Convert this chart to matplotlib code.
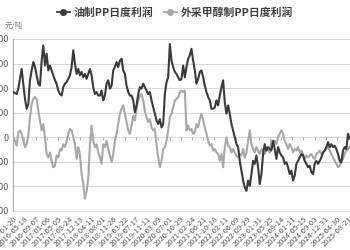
import numpy as np
import matplotlib.pyplot as plt

plt.rcParams['font.family'] = ['Noto Sans CJK SC', 'DejaVu Sans']

# 日期标签（类别轴，每隔若干交易日标一次）
date_labels = [
    '2016-01-20', '2016-05-18', '2016-09-07', '2017-01-06', '2017-05-05',
    '2017-08-24', '2017-12-13', '2018-04-11', '2018-08-01', '2018-11-26',
    '2019-03-22', '2019-07-17', '2019-11-11', '2020-03-09', '2020-07-01',
    '2020-10-29', '2021-02-24', '2021-06-21', '2021-10-18', '2022-02-11',
    '2022-06-09', '2022-09-29', '2023-01-31', '2023-05-25', '2023-09-14',
    '2024-01-11', '2024-05-15', '2024-09-03', '2024-12-31', '2025-04-30',
    '2025-08-21',
]

# 油制PP日度利润，元/吨
oil_pp = [
    920, 900, 880, 990, 1200, 1390, 1090, 780, 580, 680,
    1160, 1360, 1530, 1430, 1260, 1090, 1050, 1560, 1870, 1460,
    1700, 1360, 1460, 1360, 1260, 1160, 1090, 950, 880, 850,
    1020, 1090, 1120, 1190, 1260, 1430, 1770, 1500, 1290, 1390,
    1260, 1330, 1220, 1290, 1190, 1290, 1390, 1260, 1020, 880,
    920, 850, 850,
    950, 750, 850, 1090, 1160, 990, 1050, 1360, 1430, 1530,
    1430, 1560, 1600, 1360, 1290, 1050, 920, 850, 850, 750,
    510, 650, 880, 1020, 990, 1090, 1020, 950, 880, 920,
    750, 610, 480, 340, 270, 370, 200, 270, 880, 1120,
    1220, 1900, 1560, 1430, 1330, 1290, 1220, 1160, 1190, 1460,
    1220,
    1430, 1600, 1670, 1800, 1560, 1360, 1090, 1190, 1330, 1360,
    1220, 1050, 920, 820, 750, 580, 580, 610, 750, 650,
    850, 1020, 1160, 710, 480, 650, 480, 270, 140, 0,
    -140, -200, -480, -680, -880, -1020, -1090, -880, -990, -750,
    -480, -540, -370, -610, -950, -750, -340, -140, -270, -200,
    -240,
    -270, -70, -240, -440, -200, -310, -370, -410, -540, -510,
    -610, -750, -680, -880, -780, -540, -480, -410, -340, -370,
    -480, -540, -610, -580, -710, -750, -540, -480, -540, -480,
    -410, -310, -270, -200, -100, -200, -140, -200, -170, -240,
    -340, -480, -510, -270, -200, -240, 70, -30,
]

# 外采甲醇制PP日度利润，元/吨
meoh_pp = [
    0, -70, -170, 100, 140, 70, -70, -200, -140, 30,
    410, 680, 780, 820, 780, 540, 340, 140, 270, 0,
    -340, -410, -310, -480, -610, -580, -370, -410, -240, -270,
    -140, -200, -70, 70, 170, 140, 0, -140, -440, -200,
    -340, -750, -950, -1250, -1100, -850, -140, 240, -70, -200,
    -140, -310, -410,
    -540, -140, -200, -70, -240, -370, -510, -340, -70, 70,
    270, 480, 580, 650, 480, 310, 140, 70, 240, 440,
    340, 580, 750, 850, 880, 750, 540, 410, 310, 370,
    200, 140, 170, -140, -410, -610, -480, -240, -200, -70,
    140, 410, 480, 610, 750, 780, 820, 920, 950, 920,
    950,
    140, 240, 140, 170, 70, 100, 270, 200, 370, 480,
    340, 200, 70, -70, -170, -140, -270, -240, -310, -340,
    -480, -340, -610, -200, 0, -170, -200, -310, -240, -310,
    -370, -410, -340, -370, -240, -410, -310, -70, 140, -140,
    -240, -310, -200, -270, -340, -240, -270, -340, -240, -270,
    -310,
    -70, -140, -70, -140, 0, 70, 140, 70, -70, -140,
    -240, -140, -200, -310, -240, -270, -200, -310, -270, -340,
    -440, -370, -410, -370, -340, -410, -440, -340, -310, -270,
    -340, -310, -270, -240, -200, -270, -340, -410,
    -480, -540, -610, -580, -480, -440, -340, -270, -240, -200,
]

x = np.arange(len(oil_pp))
tick_pos = np.arange(len(date_labels)) * 6.7
y_min, y_max = -1500, 2000

fig = plt.figure(figsize=(3.5, 2.5), dpi=100)
ax = fig.add_axes([13 / 350, 1 - 211 / 250, 1 - 13 / 350, 172 / 250])

ax.plot(x, oil_pp, color='#3a3a3a', lw=1.5, label='油制PP日度利润', zorder=3)
ax.plot(x, meoh_pp, color='#a8a8a8', lw=1.5, label='外采甲醇制PP日度利润', zorder=2)

ax.set_ylim(y_min, y_max)
ax.set_yticks(np.arange(y_min, y_max + 1, 500))
ax.set_xlim(-0.2, len(oil_pp) - 0.8)
ax.grid(axis='y', color='#d9d9d9', lw=0.7)
ax.set_axisbelow(True)

ax.set_xticks(tick_pos)
ax.set_xticklabels(date_labels, rotation=45, ha='right', rotation_mode='anchor',
                   fontsize=5.5, color='#595959')
ax.tick_params(axis='x', length=0, pad=3)
ax.tick_params(axis='y', length=0, pad=3, labelsize=6.5, labelcolor='#595959')

for side in ['top', 'right']:
    ax.spines[side].set_visible(False)
ax.spines['left'].set_color('#a6a6a6')
ax.spines['left'].set_linewidth(0.8)
ax.spines['bottom'].set_color('#d9d9d9')
ax.spines['bottom'].set_linewidth(0.7)

# 零轴（带刻度）
zero_loc = (0 - y_min) / (y_max - y_min)
zax = ax.secondary_xaxis(zero_loc)
zax.set_xticks(tick_pos)
zax.set_xticklabels([])
zax.tick_params(axis='x', direction='out', length=2, width=0.6, color='#a6a6a6')
zax.spines['bottom'].set_color('#a6a6a6')
zax.spines['bottom'].set_linewidth(0.8)

fig.text(5 / 350, 1 - 26 / 250, '元/吨', fontsize=5.5, color='#7f7f7f',
         va='center', ha='left')

# 图例：线+圆点
h1 = plt.Line2D([], [], color='#3a3a3a', lw=1.3, marker='o', markersize=4)
h2 = plt.Line2D([], [], color='#a8a8a8', lw=1.3, marker='o', markersize=4)
fig.legend([h1, h2], ['油制PP日度利润', '外采甲醇制PP日度利润'],
           loc='center', bbox_to_anchor=(175 / 350, 1 - 13 / 250), ncol=2,
           frameon=False, handlelength=1.2, handletextpad=0.4, columnspacing=0.9,
           prop={'size': 7.8, 'weight': 'bold'}, labelcolor='#404040')

fig.savefig('out.png', dpi=100)
